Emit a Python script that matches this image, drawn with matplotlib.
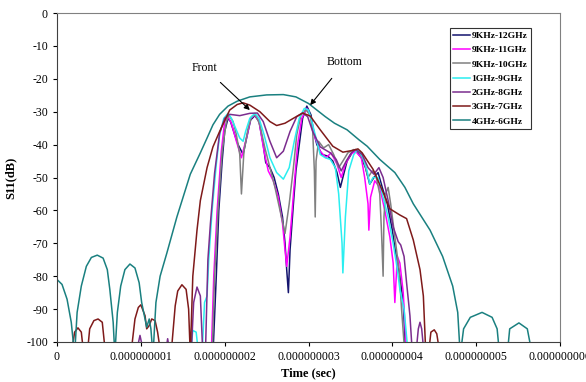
import matplotlib
matplotlib.use('Agg')
import matplotlib.pyplot as plt
import numpy as np

plt.rcParams['font.family'] = ['Liberation Serif', 'DejaVu Serif']
plt.rcParams['axes.unicode_minus'] = False

# time in ns, S11 in dB
navy_t = [1.86, 1.90, 1.93, 1.97, 2.00, 2.04, 2.07, 2.12, 2.16, 2.22, 2.27, 2.31, 2.36, 2.41, 2.46, 2.49,
          2.54, 2.59, 2.64, 2.69, 2.72, 2.74, 2.76, 2.78, 2.82, 2.85, 2.90, 2.93, 2.98, 3.03, 3.06, 3.10,
          3.16, 3.23, 3.29, 3.34, 3.38, 3.41, 3.46, 3.52, 3.57, 3.63, 3.68, 3.73, 3.78, 3.83, 3.88, 3.94,
          4.00, 4.04, 4.09, 4.13, 4.16]
navy_db = [-104, -80, -60, -45, -36, -32, -33, -37, -40, -43, -37, -32.5, -31.2, -33, -40, -45.5,
           -47, -50, -55, -62, -70, -78, -85, -72, -58, -48, -38, -32, -28.3, -31, -36, -40,
           -43, -43.5, -45, -48.5, -53, -50, -45, -42.5, -42, -44, -47, -52, -50, -48.5, -53, -58,
           -66, -73, -80, -88, -104]

mag_t = [1.84, 1.87, 1.91, 1.96, 2.00, 2.04, 2.08, 2.14, 2.20, 2.27, 2.31, 2.36, 2.41, 2.47, 2.52,
         2.58, 2.64, 2.69, 2.72, 2.74, 2.78, 2.83, 2.87, 2.92, 2.98, 3.03, 3.08, 3.14, 3.21, 3.27,
         3.34, 3.39, 3.44, 3.50, 3.56, 3.63, 3.67, 3.71, 3.72, 3.74, 3.79, 3.85, 3.91, 3.97, 4.01,
         4.03, 4.06, 4.09, 4.13, 4.17]
mag_db = [-104, -80, -60, -42, -33, -31.5, -33.5, -39, -44, -37, -32, -31, -33, -42, -48,
          -51, -56, -64, -72, -77, -68, -52, -40, -32, -29, -32, -38, -42, -44, -42.5,
          -46, -50, -46, -43, -42, -44, -50, -58, -66, -56, -51, -53, -60, -68, -76,
          -88, -74, -76, -85, -104]

gray_t = [1.85, 1.88, 1.92, 1.97, 2.02, 2.05, 2.10, 2.14, 2.18, 2.20, 2.23, 2.28, 2.32, 2.37, 2.42,
          2.48, 2.54, 2.60, 2.66, 2.72, 2.77, 2.82, 2.86, 2.91, 2.97, 3.02, 3.05, 3.07, 3.08, 3.09,
          3.12, 3.18, 3.24, 3.30, 3.36, 3.41, 3.47, 3.54, 3.61, 3.66, 3.71, 3.76, 3.80, 3.85, 3.87,
          3.89, 3.90, 3.92, 3.95, 3.98, 4.03, 4.08, 4.11, 4.15]
gray_db = [-104, -80, -60, -42, -33, -31, -33, -37, -43, -55, -42, -35, -31.5, -31, -34,
           -41, -47, -53, -60, -67, -58, -47, -37, -31, -29.5, -31, -36, -48, -62, -45,
           -39, -41, -40, -43, -47, -45, -42.5, -41.5, -42.5, -45, -50, -48, -49, -55, -66,
           -80, -62, -55, -53, -58, -68, -78, -90, -104]

cyan_t = [1.59, 1.62, 1.66, 1.69, 1.73, 1.76, 1.79, 1.81, 1.85, 1.90, 1.94, 1.99, 2.04, 2.08, 2.13,
          2.18, 2.22, 2.25, 2.30, 2.36, 2.41, 2.47, 2.54, 2.62, 2.70, 2.77, 2.83, 2.89, 2.95, 3.00,
          3.04, 3.09, 3.14, 3.20, 3.26, 3.32, 3.36, 3.40, 3.41, 3.44, 3.48, 3.54, 3.59, 3.65, 3.70,
          3.73, 3.77, 3.83, 3.89, 3.95, 4.01, 4.06, 4.09, 4.14, 4.19]
cyan_db = [-104, -96.5, -97, -104, -104, -88, -86, -75, -60, -46, -37, -32, -30.5, -32, -35,
           -38, -39, -36, -32, -30.5, -32, -37, -44, -48.5, -50.5, -47, -39, -32, -29, -29.5,
           -33, -38, -43, -44, -44.5, -47, -55, -70, -79, -62, -48, -43, -41.5, -44, -48,
           -52, -50, -50, -56, -62, -70, -78, -84, -90, -104]

purple_t = [0.94, 0.99, 1.04, 1.29, 1.32, 1.35, 1.60, 1.63, 1.67, 1.71, 1.74, 1.77, 1.80, 1.83, 1.88,
            1.94, 2.00, 2.06, 2.18, 2.30, 2.39, 2.46, 2.54, 2.62, 2.70, 2.78, 2.86, 2.93, 2.99, 3.05,
            3.14, 3.26, 3.33, 3.39, 3.45, 3.51, 3.56, 3.64, 3.71, 3.78, 3.84, 3.89, 3.95, 4.01, 4.07,
            4.10, 4.14, 4.17, 4.21, 4.24, 4.28, 4.31, 4.33, 4.35, 4.38]
purple_db = [-104, -98, -104, -104, -99, -104, -104, -88, -83.3, -86, -104, -104, -75, -64, -48.6,
             -36.5, -32, -30.8, -31.2, -30.5, -30.4, -33, -39, -44, -42, -36, -31.5, -30.4, -31.5, -36,
             -40.7, -42.5, -44.5, -48, -45, -42.5, -41.5, -43, -47, -49, -47, -50, -57, -65, -69.5,
             -70.5, -74, -82, -92, -104, -104, -96, -94, -96, -104]

brown_t = [0.17, 0.21, 0.25, 0.29, 0.32, 0.36, 0.39, 0.44, 0.49, 0.54, 0.58, 0.88, 0.93, 0.97, 1.00,
           1.05, 1.07, 1.10, 1.13, 1.17, 1.20, 1.24, 1.36, 1.41, 1.44, 1.49, 1.54, 1.57, 1.59, 1.62,
           1.67, 1.71, 1.79, 1.86, 1.94, 2.06, 2.15, 2.22, 2.30, 2.42, 2.54, 2.62, 2.72, 2.82, 2.93,
           3.02, 3.14, 3.29, 3.41, 3.52, 3.59, 3.64, 3.77, 3.89, 3.97, 4.09, 4.17, 4.25, 4.33, 4.37,
           4.40, 4.43, 4.46, 4.50, 4.53, 4.57]
brown_db = [-104, -97, -95.7, -97, -104, -104, -96, -93.5, -93, -94, -104, -104, -93, -89.5, -88.7,
            -92, -96, -95, -93, -93.5, -97, -104, -104, -89, -84.5, -82.6, -84, -90, -104, -80,
            -66, -57, -47, -40.7, -36, -29.5, -27.8, -27.3, -28, -30, -33, -34.2, -33.5, -32, -30.4,
            -31.3, -35.5, -40.5, -42.3, -41.8, -41.3, -42.5, -47.5, -54.5, -59.5, -61.4, -62.5, -69, -78, -86,
            -104, -104, -97, -96.3, -97.5, -104]

teal_t = [0.00, 0.06, 0.12, 0.17, 0.21, 0.24, 0.29, 0.35, 0.41, 0.48, 0.55, 0.60, 0.63, 0.67, 0.69,
          0.72, 0.76, 0.81, 0.87, 0.93, 0.98, 1.01, 1.05, 1.07, 1.10, 1.12, 1.145, 1.18, 1.23, 1.31,
          1.43, 1.59, 1.71, 1.79, 1.86, 1.94, 2.04, 2.15, 2.30, 2.50, 2.70, 2.85, 3.00, 3.10, 3.20,
          3.31, 3.46, 3.60, 3.70, 3.85, 4.03, 4.15, 4.25, 4.45, 4.60, 4.72, 4.78, 4.81, 4.85, 4.93,
          5.07, 5.19, 5.25, 5.28, 5.32, 5.37, 5.40, 5.51, 5.61, 5.67, 5.72]
teal_db = [-81, -82.5, -87, -94, -104, -91, -83, -77, -74.3, -73.6, -74.5, -78, -84, -94, -104,
           -91, -83, -78, -76.3, -77.5, -82, -88, -93, -95.5, -93, -96, -104, -88, -80, -73,
           -62, -49, -42.5, -38, -34, -30.8, -28.3, -26.8, -25.5, -24.9, -24.8, -25.5, -27.5, -29.5, -31.5,
           -33.5, -35.5, -38.5, -40.5, -44.5, -48.5, -53, -58, -66, -74, -83, -91, -104, -96, -92.5,
           -91, -92.5, -96, -104, -110, -104, -96, -94.2, -96, -104, -110]

labels = ['9KHz-12GHz', '9KHz-11GHz', '9KHz-10GHz', '1GHz-9GHz', '2GHz-8GHz', '3GHz-7GHz', '4GHz-6GHz']
colors = ['#14146e', '#ff00ff', '#808080', '#2aeef0', '#7b2d8e', '#7f1a1a', '#1a8080']
series = [(navy_t, navy_db), (mag_t, mag_db), (gray_t, gray_db), (cyan_t, cyan_db),
          (purple_t, purple_db), (brown_t, brown_db), (teal_t, teal_db)]

x_ticks = [0, 1e-9, 2e-9, 3e-9, 4e-9, 5e-9, 6e-9]
x_ticklabels = ['0', '0.000000001', '0.000000002', '0.000000003', '0.000000004', '0.000000005', '0.000000006']
y_ticks = [0, -10, -20, -30, -40, -50, -60, -70, -80, -90, -100]

fig = plt.figure(figsize=(5.86, 3.82), dpi=100)
ax = fig.add_axes([57/586, 40/382, 503/586, 329/382])

for (t, db), c, lab in zip(series, colors, labels):
    ax.plot(np.array(t) * 1e-9, db, color=c, lw=1.1, label=lab)

ax.set_xlim(0, 6e-9)
ax.set_ylim(-100, 0)
ax.set_xticks(x_ticks)
ax.set_xticklabels(x_ticklabels)
ax.set_yticks(y_ticks)
ax.tick_params(labelsize=8.5, direction='out', length=3, width=0.8)
for s in ['left', 'bottom']:
    ax.spines[s].set_color('#404040')
for s in ['top', 'right']:
    ax.spines[s].set_color('#808080')

ax.set_xlabel('Time (sec)', fontsize=9, fontweight='bold', labelpad=3)
ax.set_ylabel('S11(dB)', fontsize=9, fontweight='bold', labelpad=7)

arrow = dict(arrowstyle='-|>', color='black', lw=0.8, mutation_scale=8)
ax.annotate('Front', xy=(2.30e-9, -29.5), xytext=(1.765e-9, -16.7), fontsize=8.5,
            ha='center', va='center', arrowprops=dict(arrow, shrinkA=6, shrinkB=0))
ax.annotate('Bottom', xy=(3.02e-9, -28.0), xytext=(3.435e-9, -14.9), fontsize=8.5,
            ha='center', va='center', arrowprops=dict(arrow, shrinkA=7, shrinkB=0))

leg = ax.legend(loc='upper left', bbox_to_anchor=(0.781, 0.954), borderaxespad=0,
                prop={'weight': 'bold', 'size': 6.8}, frameon=True, fancybox=False,
                handlelength=1.8, handletextpad=0.15, labelspacing=0.6, borderpad=0.35)
leg.get_frame().set_edgecolor('black')
leg.get_frame().set_linewidth(0.8)

fig.savefig('out.png', dpi=100)
